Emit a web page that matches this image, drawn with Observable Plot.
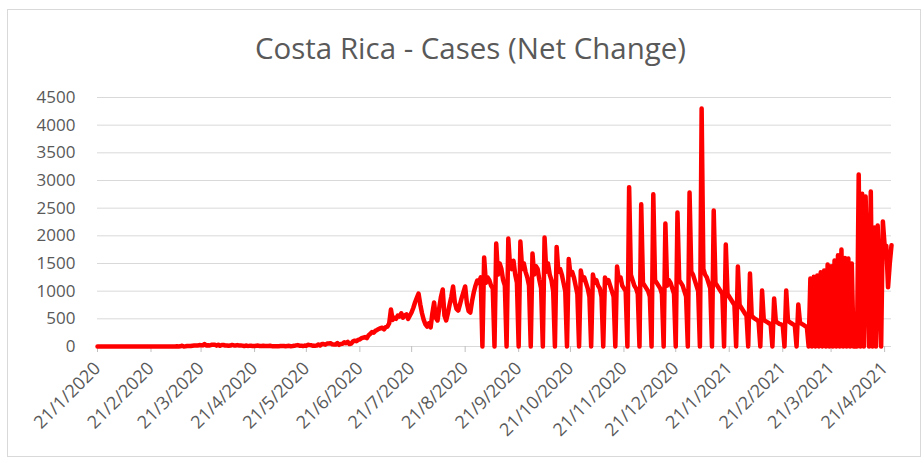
<!DOCTYPE html>
<html><head><meta charset="utf-8">
<script src="https://cdn.jsdelivr.net/npm/d3@7"></script>
<script src="https://cdn.jsdelivr.net/npm/@observablehq/plot@0.6"></script>
<style>
html,body{margin:0;padding:0;background:#fff;}
#wrap{position:relative;width:924px;height:463px;overflow:hidden;font-family:"Open Sans",sans-serif;}
#frame{position:absolute;left:7px;top:9px;width:914px;height:448px;border:1px solid #d9d9d9;box-sizing:border-box;}
#title{position:absolute;left:0;top:0;}
#chart{position:absolute;left:0;top:70px;}
</style></head><body>
<div id="wrap"><div id="frame"></div>
<svg id="title" width="924" height="70"><text id="ttl" x="470.5" y="59" text-anchor="middle" font-family="'Open Sans', sans-serif" font-size="29" fill="#595959" textLength="431" lengthAdjust="spacingAndGlyphs"></text></svg>
<div id="chart"></div></div>
<script>
const titleText = "Costa Rica - Cases (Net Change)";
const startDate = "2020-01-21";
// daily net change in cases
const janFeb2020 = [0,0,0,0,0,0,0,0,0,0,0,0,0,0,0,0,0,0,0,0,0,0,0,0,0,0,0,0,0,0,0,0,0,0,0,0,0,0,0,0];
const mar2020 = [0,0,0,0,0,1,4,0,4,14,0,4,9,11,9,15,19,19,18,26,24,20,44,19,24,18,30,31,33,16,33];
const apr2020 = [13,28,27,19,19,13,17,29,20,19,25,19,20,16,7,17,11,12,14,7,7,14,17,9,9,12,8,10,8,13];
const may2020 = [6,6,6,5,6,9,11,10,6,9,12,5,8,12,20,25,14,15,8,16,14,30,25,22,12,14,16,37,19,43,43];
const jun2020 = [33,52,53,60,40,35,35,63,30,47,49,75,61,85,45,54,93,104,96,119,130,150,160,170,150,200,230,260,250,283];
const jul2020 = [300,320,330,340,310,350,360,420,670,480,520,500,560,540,600,520,560,580,500,560,620,700,800,880,957,760,600,480,400,360,420];
const aug2020 = [343,600,795,520,470,700,900,1030,560,470,600,760,900,1084,800,680,650,760,880,980,1084,780,640,614,820,980,1100,1193,1150,1250];
// from 31/8/2020: weekly rows (no report, catch-up day, five regular days)
const weekly = [
  0,1608,1150,1250,1200,1100,1050,
  0,1861,1300,1500,1400,1200,1100,
  0,1951,1450,1400,1550,1300,1150,
  0,1897,1400,1500,1350,1250,1100,
  0,1680,1300,1450,1400,1200,1050,
  0,1970,1350,1500,1300,1200,1000,
  0,1800,1350,1400,1300,1150,1000,
  0,1580,1300,1350,1250,1100,950,
  0,1373,1200,1250,1150,1050,900,
  0,1301,1150,1200,1100,1050,900,
  0,1247,1150,1200,1100,1000,900,
  0,1446,1200,1250,1100,1050,1000,
  0,2880,1300,1200,1100,1050,950,
  0,2570,1150,1100,1050,1000,900,
  0,2750,1200,1150,1100,1050,950,
  0,2223,1100,1200,1150,1050,950,
  0,2421,1200,1150,1100,1000,900,
  0,2783,1350,1300,1200,1100,1000,
  0,4300,1400,1300,1250,1150,1050,
  0,2458,1150,1100,1050,1000,950,
  0,1843,950,900,850,800,750,
  0,1446,750,700,650,600,560,
  0,1319,560,520,500,480,450,
  0,1012,480,460,440,420,400,
  0,867,450,430,410,400,380,
  0,1012,470,440,420,400,380,
  0,759,430,410,390,370,343
];
const marApr2021 = [0,1229,0,1260,0,1283,0,1340,0,1373,0,1482,0,1450,0,1554,0,1650,0,1753,0,1600,0,1590,0,1500,
  0,0,0,3108,0,2760,0,2711,1430,0,2801,0,2150,0,2187,1140,0,2260,1830,1820,1070,1500,1830];
const yTicks = [0,500,1000,1500,2000,2500,3000,3500,4000,4500];
const xTickDates = ["2020-01-21","2020-02-21","2020-03-21","2020-04-21","2020-05-21","2020-06-21","2020-07-21","2020-08-21","2020-09-21","2020-10-21","2020-11-21","2020-12-21","2021-01-21","2021-02-21","2021-03-21","2021-04-21"];

document.getElementById("ttl").textContent = titleText;
const cases = [].concat(janFeb2020, mar2020, apr2020, may2020, jun2020, jul2020, aug2020, weekly, marApr2021);
const t0 = new Date(startDate).getTime();
const data = cases.map((v, i) => ({date: new Date(t0 + i * 864e5), value: v}));
const xTicks = xTickDates.map(s => new Date(s));
const fmt = d => `${d.getUTCDate()}/${d.getUTCMonth() + 1}/${d.getUTCFullYear()}`;

const chart = Plot.plot({
  width: 924, height: 393,
  marginLeft: 97, marginRight: 33, marginTop: 27, marginBottom: 117,
  style: {fontFamily: "'Open Sans', sans-serif", fontSize: "17px", color: "#595959", background: "transparent", overflow: "visible"},
  x: {type: "utc", domain: [data[0].date, data[data.length - 1].date]},
  y: {domain: [0, 4500]},
  marks: [
    Plot.gridY(yTicks, {stroke: "#d9d9d9", strokeOpacity: 1, strokeWidth: 1}),
    Plot.axisY(yTicks, {tickSize: 0, tickPadding: 22, label: null, fontSize: 17, tickFormat: d => String(d)}),
    Plot.ruleY([0], {stroke: "#d9d9d9", strokeWidth: 1}),
    Plot.axisX(xTicks, {tickSize: 6, stroke: "#bfbfbf", tickRotate: -45, tickFormat: fmt, tickPadding: 13, label: null, fontSize: 18}),
    Plot.line(data, {x: "date", y: "value", stroke: "#ff0000", strokeWidth: 4.5, strokeLinejoin: "round"})
  ]
});
document.getElementById("chart").appendChild(chart);
</script>
</body></html>
